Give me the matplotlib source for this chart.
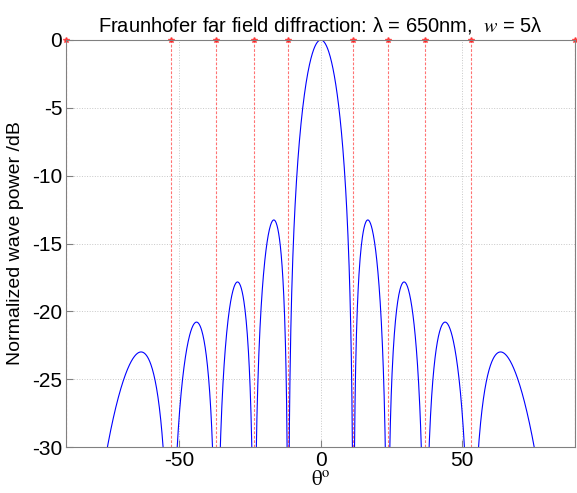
import matplotlib
matplotlib.use("Agg")
import matplotlib.pyplot as plt
import numpy as np

plt.rcParams['font.family'] = ['Liberation Sans', 'DejaVu Sans']
plt.rcParams['mathtext.fontset'] = 'stix'
plt.rcParams['axes.unicode_minus'] = False

# slit parameters (from the title)
wavelength_nm = 650.0
slit_width_in_lambda = 5.0

# minima angles (deg)
null_angles = [-90, -53.1, -36.9, -23.6, -11.5, 11.5, 23.6, 36.9, 53.1, 90]

xticks = [-50, 0, 50]
yticks = [0, -5, -10, -15, -20, -25, -30]

# far field of a single slit
theta = np.linspace(-90, 90, 1801)
lam = wavelength_nm * 1e-9
w = slit_width_in_lambda * lam
beta = np.pi * w * np.sin(np.radians(theta)) / lam
intensity = np.sinc(beta / np.pi) ** 2
power_db = 10 * np.log10(np.maximum(intensity, 1e-12))

fig = plt.figure(figsize=(5.77, 4.93), dpi=100)
ax = fig.add_axes([0.115, 0.093, 0.882, 0.826])

ax.plot(theta, power_db, color='blue', lw=0.8)
for a in null_angles:
    ax.axvline(a, color='red', ls=(0, (2.5, 1.5)), lw=0.8, alpha=0.55)
ax.plot(null_angles, np.zeros(len(null_angles)), 'r*', ms=4, alpha=0.6, clip_on=False)

ax.set_xlim(-90, 90)
ax.set_ylim(-30, 0)
ax.set_xticks(xticks)
ax.set_yticks(yticks)
ax.grid(True, ls=':', color='#c8c8c8', lw=0.7)
ax.tick_params(direction='in', labelsize=15, length=5, color='#808080', pad=3)
for s in ax.spines.values():
    s.set_color('#808080')

ax.set_xlabel(r'$\mathrm{\theta}^{\mathsf{o}}$'.replace('mathsf', 'mathrm'), fontsize=15, labelpad=0)
ax.set_ylabel('Normalized wave power /dB', fontsize=14, labelpad=6)
ax.set_title('Fraunhofer far field diffraction: \u03bb = 650nm,  ' + r'$\mathit{w}$' + ' = 5\u03bb',
             fontsize=14.5, pad=6)

fig.savefig('out.png', dpi=100)
